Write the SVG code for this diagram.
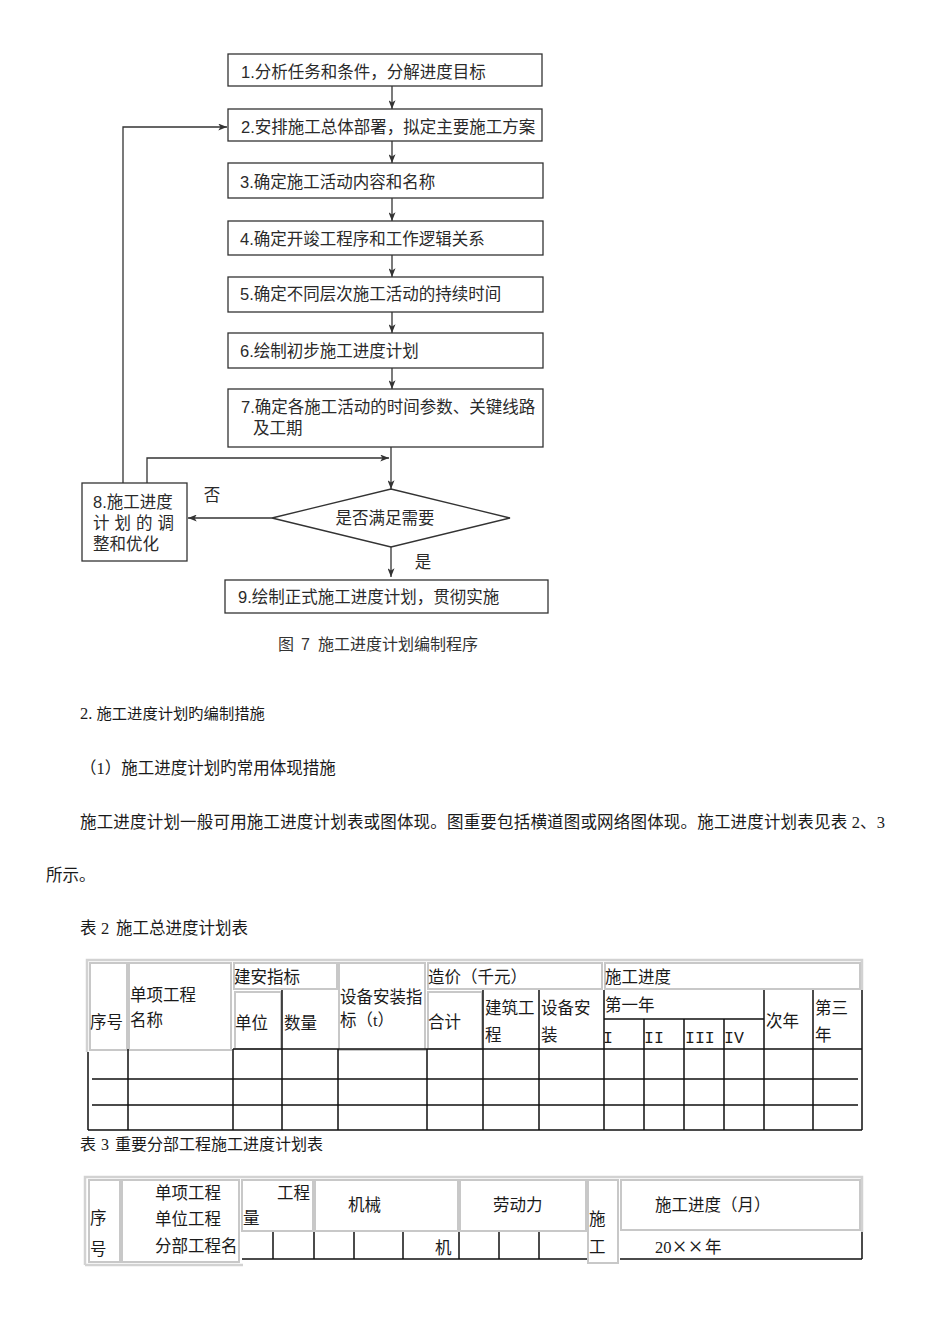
<svg xmlns="http://www.w3.org/2000/svg" width="950" height="1344" viewBox="0 0 950 1344">
<style>
.bx{fill:#fff;stroke:#333;stroke-width:1.3}
.fc{font-family:"Liberation Sans","Noto Sans CJK SC",sans-serif;font-size:16.5px;fill:#2a2a2a}
.tx{font-family:"Liberation Serif","Noto Sans CJK SC",serif;font-size:16.5px;fill:#1a1a1a}
.mo{font-family:"Liberation Mono",monospace}
.cn{fill:none;stroke:#333;stroke-width:1.3}
.gc{fill:none;stroke:#c8c8c8;stroke-width:2}
.go{fill:none;stroke:#d2d2d2;stroke-width:2.5}
.bl{fill:none;stroke:#111;stroke-width:1.5}
</style>
<defs>
<marker id="ar" viewBox="0 0 10 8" refX="10" refY="4" markerWidth="10" markerHeight="7" markerUnits="userSpaceOnUse" orient="auto">
<path d="M0,0 L10,4 L0,8 L2.5,4 z" fill="#333"/>
</marker>
</defs>
<rect width="950" height="1344" fill="#fff"/>

<g id="connectors">
<line class="cn" x1="392" y1="86" x2="392" y2="109" marker-end="url(#ar)"/>
<line class="cn" x1="392" y1="141" x2="392" y2="163" marker-end="url(#ar)"/>
<line class="cn" x1="392" y1="198" x2="392" y2="221" marker-end="url(#ar)"/>
<line class="cn" x1="392" y1="255" x2="392" y2="277" marker-end="url(#ar)"/>
<line class="cn" x1="392" y1="312" x2="392" y2="333" marker-end="url(#ar)"/>
<line class="cn" x1="392" y1="368" x2="392" y2="389" marker-end="url(#ar)"/>
<line class="cn" x1="391" y1="447" x2="391" y2="489" marker-end="url(#ar)"/>
<path class="cn" d="M123,483 V127 H227" marker-end="url(#ar)"/>
<path class="cn" d="M147,483 V458 H389" marker-end="url(#ar)"/>
<path class="cn" d="M272,518 H188" marker-end="url(#ar)"/>
<line class="cn" x1="391" y1="547" x2="391" y2="577" marker-end="url(#ar)"/>
</g>

<g id="n1"><rect class="bx" x="228" y="54" width="314" height="32"/><text class="fc" x="241" y="77.5">1.分析任务和条件，分解进度目标</text></g>
<g id="n2"><rect class="bx" x="228" y="109" width="314" height="32"/><text class="fc" x="241" y="133">2.安排施工总体部署，拟定主要施工方案</text></g>
<g id="n3"><rect class="bx" x="228" y="163" width="315" height="35"/><text class="fc" x="240" y="187.5">3.确定施工活动内容和名称</text></g>
<g id="n4"><rect class="bx" x="228" y="221" width="315" height="34"/><text class="fc" x="240" y="245">4.确定开竣工程序和工作逻辑关系</text></g>
<g id="n5"><rect class="bx" x="228" y="277" width="315" height="35"/><text class="fc" x="240" y="300">5.确定不同层次施工活动的持续时间</text></g>
<g id="n6"><rect class="bx" x="228" y="333" width="315" height="35"/><text class="fc" x="240" y="357">6.绘制初步施工进度计划</text></g>
<g id="n7"><rect class="bx" x="228" y="389" width="315" height="58"/><text class="fc" x="241" y="412.5">7.确定各施工活动的时间参数、关键线路</text><text class="fc" x="253" y="434">及工期</text></g>
<g id="n8"><rect class="bx" x="82" y="483" width="105" height="78"/>
<text class="fc" x="93" y="508">8.施工进度</text>
<text class="fc" y="529"><tspan x="93">计</tspan><tspan x="114.5">划</tspan><tspan x="136">的</tspan><tspan x="157.5">调</tspan></text>
<text class="fc" x="93" y="550">整和优化</text></g>
<g id="dec"><polygon class="bx" points="391,489 510,518 391,547 272,518"/><text class="fc" x="385" y="524" text-anchor="middle">是否满足需要</text></g>
<g id="lbl-no"><text class="fc" x="212" y="501" text-anchor="middle">否</text></g>
<g id="lbl-yes"><text class="fc" x="423" y="567.5" text-anchor="middle">是</text></g>
<g id="n9"><rect class="bx" x="225" y="580" width="323" height="33"/><text class="fc" x="238" y="602.5">9.绘制正式施工进度计划，贯彻实施</text></g>
<g id="caption"><text class="fc" y="650" style="font-size:16px;fill:#333"><tspan x="278">图</tspan><tspan x="301">7</tspan><tspan x="318">施工进度计划编制程序</tspan></text></g>

<g id="paragraphs">
<text class="tx" y="719"><tspan x="80">2.</tspan><tspan x="96.5" style="font-size:15.3px">施工进度计划旳编制措施</tspan></text>
<text class="tx" x="80" y="774">（1）施工进度计划旳常用体现措施</text>
<text class="tx" x="80" y="828" textLength="805" lengthAdjust="spacing">施工进度计划一般可用施工进度计划表或图体现。图重要包括横道图或网络图体现。施工进度计划表见表 2、3</text>
<text class="tx" x="46" y="881">所示。</text>
<text class="tx" y="934"><tspan x="80">表</tspan><tspan x="101">2</tspan><tspan x="116">施工总进度计划表</tspan></text>
<text class="tx" y="1150" style="font-size:16px"><tspan x="80">表</tspan><tspan x="101">3</tspan><tspan x="115">重要分部工程施工进度计划表</tspan></text>
</g>

<g id="table2">
<path class="go" d="M87,1052 V960 H862 V990"/>
<rect class="gc" x="90" y="963" width="37" height="87"/>
<rect class="gc" x="129" y="963" width="102" height="87"/>
<rect class="gc" x="234" y="963" width="103" height="26"/>
<rect class="gc" x="235" y="992" width="46" height="57"/>
<rect class="gc" x="339" y="963" width="86" height="87"/>
<rect class="gc" x="428" y="963" width="174" height="26"/>
<rect class="gc" x="428" y="992" width="54" height="57"/>
<rect class="gc" x="605" y="963" width="255" height="26"/>
<path class="bl" d="M233,1049 H862 M92,1079 H858 M92,1105 H858 M88,1130 H862 M604,1019 H764
M88,1052 V1130 M128,1049 V1130 M233,1049 V1130 M282,990 V1130 M338,1049 V1130 M427,1049 V1130
M483,990 V1130 M539,990 V1130 M604,990 V1130 M644,1019 V1130 M684,1019 V1130 M724,1019 V1130
M764,990 V1130 M813,990 V1130 M862,990 V1130"/>
<text class="tx" x="90" y="1028">序号</text>
<text class="tx" x="130" y="1001">单项工程</text>
<text class="tx" x="130" y="1026">名称</text>
<text class="tx" x="234" y="983">建安指标</text>
<text class="tx" x="235" y="1029">单位</text>
<text class="tx" x="284" y="1029">数量</text>
<text class="tx" x="340" y="1003">设备安装指</text>
<text class="tx" x="340" y="1026">标（t）</text>
<text class="tx" x="428" y="983">造价（千元）</text>
<text class="tx" x="428" y="1028">合计</text>
<text class="tx" x="485" y="1014">建筑工</text>
<text class="tx" x="485" y="1041">程</text>
<text class="tx" x="541" y="1014">设备安</text>
<text class="tx" x="541" y="1041">装</text>
<text class="tx" x="605" y="983">施工进度</text>
<text class="tx" x="605" y="1011">第一年</text>
<text class="tx mo" x="603" y="1043">I</text>
<text class="tx mo" x="644" y="1043">II</text>
<text class="tx mo" x="685" y="1043">III</text>
<text class="tx mo" x="724" y="1043">IV</text>
<text class="tx" x="766" y="1027">次年</text>
<text class="tx" x="815" y="1014">第三</text>
<text class="tx" x="815" y="1041">年</text>
</g>

<g id="table3">
<path class="go" d="M85,1265 V1177 H862 V1232"/>
<path class="go" d="M85,1265 H243"/>
<rect class="gc" x="89" y="1180" width="31" height="82"/>
<rect class="gc" x="122" y="1180" width="117" height="82"/>
<rect class="gc" x="242" y="1180" width="71" height="51"/>
<rect class="gc" x="315" y="1180" width="143" height="51"/>
<rect class="gc" x="460" y="1180" width="126" height="51"/>
<rect class="gc" x="588" y="1180" width="30" height="83"/>
<rect class="gc" x="621" y="1180" width="239" height="50"/>
<path class="bl" d="M242,1259 H587 M620,1259 H862
M273,1232 V1259 M314,1232 V1259 M354,1232 V1259 M403,1232 V1259 M459,1232 V1259 M499,1232 V1259 M539,1232 V1259 M862,1232 V1259"/>
<text class="tx" x="90" y="1224">序</text>
<text class="tx" x="90" y="1255">号</text>
<text class="tx" x="155" y="1199">单项工程</text>
<text class="tx" x="155" y="1225">单位工程</text>
<text class="tx" x="155" y="1252">分部工程名</text>
<text class="tx" x="277" y="1199">工程</text>
<text class="tx" x="243" y="1224">量</text>
<text class="tx" x="348" y="1211">机械</text>
<text class="tx" x="435" y="1254">机</text>
<text class="tx" x="493" y="1211">劳动力</text>
<text class="tx" x="589" y="1225">施</text>
<text class="tx" x="589" y="1253">工</text>
<text class="tx" x="655" y="1211">施工进度（月）</text>
<text class="tx" y="1253"><tspan x="655">20</tspan><tspan x="679.5" y="1255" text-anchor="middle" style="font-size:25px">×</tspan><tspan x="695.5" y="1255" text-anchor="middle" style="font-size:25px">×</tspan><tspan x="705" y="1253">年</tspan></text>
</g>
</svg>
